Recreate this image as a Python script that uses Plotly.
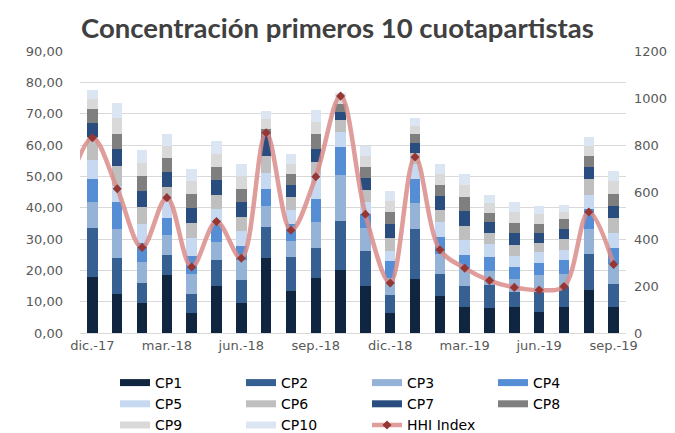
import plotly.graph_objects as go

months = ["dic.-17", "ene.-18", "feb.-18", "mar.-18", "abr.-18", "may.-18", "jun.-18",
          "jul.-18", "ago.-18", "sep.-18", "oct.-18", "nov.-18", "dic.-18", "ene.-19",
          "feb.-19", "mar.-19", "abr.-19", "may.-19", "jun.-19", "jul.-19", "ago.-19", "sep.-19"]
tick_labels = ["dic.-17", "mar.-18", "jun.-18", "sep.-18", "dic.-18", "mar.-19", "jun.-19", "sep.-19"]

cp1 = [18.0, 12.5, 9.5, 18.4, 6.4, 14.9, 9.5, 23.8, 13.3, 17.7, 20.0, 14.9, 6.3, 17.1, 11.8, 8.3, 7.9, 8.3, 6.7, 8.3, 13.6, 8.3]
cp2 = [15.6, 11.3, 6.6, 6.6, 6.1, 8.5, 7.3, 10.1, 10.9, 9.3, 15.9, 11.3, 5.9, 16.0, 7.1, 6.7, 7.4, 4.8, 6.4, 6.5, 11.5, 7.2]
cp3 = [8.1, 9.3, 6.6, 6.2, 6.2, 5.5, 6.4, 6.6, 5.2, 8.5, 14.4, 7.4, 5.5, 8.5, 6.2, 5.8, 4.5, 4.2, 5.3, 3.9, 8.0, 6.4]
cp4 = [7.4, 8.7, 6.1, 5.5, 5.9, 5.8, 4.6, 5.6, 5.3, 7.4, 9.1, 4.3, 5.3, 7.4, 5.6, 4.2, 4.4, 3.8, 3.9, 4.5, 6.4, 5.3]
cp5 = [6.2, 5.1, 5.9, 5.4, 5.8, 4.8, 4.6, 5.1, 4.4, 7.4, 4.6, 4.0, 3.2, 4.8, 4.7, 4.6, 4.3, 3.5, 3.4, 3.4, 4.7, 4.8]
cp6 = [7.3, 6.4, 5.5, 4.6, 4.6, 4.5, 4.6, 5.3, 4.3, 4.3, 3.9, 3.7, 4.2, 3.7, 4.0, 4.7, 3.5, 3.5, 3.1, 3.4, 4.8, 4.8]
cp7 = [4.4, 5.5, 5.1, 4.8, 4.8, 4.7, 4.8, 6.4, 3.7, 4.2, 2.7, 4.0, 4.3, 3.2, 4.3, 4.7, 3.5, 3.9, 3.2, 3.2, 4.0, 3.7]
cp8 = [4.4, 4.7, 4.7, 4.2, 4.7, 4.3, 4.3, 2.1, 3.5, 4.6, 2.6, 3.4, 3.9, 2.7, 3.5, 4.3, 2.8, 3.1, 2.9, 3.1, 3.5, 4.0]
cp9 = [3.4, 5.2, 4.4, 4.0, 3.9, 4.0, 3.9, 3.2, 3.2, 4.0, 1.9, 3.5, 3.5, 2.8, 3.4, 3.8, 3.1, 3.6, 3.0, 2.4, 3.2, 4.0]
cp10 = [2.6, 4.6, 4.1, 3.8, 3.8, 4.2, 3.8, 2.7, 3.2, 3.7, 1.6, 3.2, 3.2, 2.5, 3.2, 3.7, 2.6, 3.1, 2.6, 2.3, 2.9, 3.2]

hhi = [831, 614, 364, 576, 281, 474, 318, 852, 437, 665, 1008, 505, 213, 749, 354, 276, 223, 194, 183, 198, 515, 292]
# previous month (outside the visible range, only its line segment enters at the left edge)
hhi_prev_month = "nov.-17"
hhi_prev = 610

series = [
    ("CP1", cp1, "#10253f"),
    ("CP2", cp2, "#376092"),
    ("CP3", cp3, "#95b3d7"),
    ("CP4", cp4, "#558ed5"),
    ("CP5", cp5, "#c6d9f1"),
    ("CP6", cp6, "#bfbfbf"),
    ("CP7", cp7, "#284d7e"),
    ("CP8", cp8, "#7f7f7f"),
    ("CP9", cp9, "#d9d9d9"),
    ("CP10", cp10, "#dce6f2"),
]

fig = go.Figure()
for name, vals, col in series:
    fig.add_trace(go.Bar(x=months, y=vals, name=name, legendgroup=name, showlegend=False,
                         marker=dict(color=col, line=dict(width=0))))
for name, vals, col in series:
    fig.add_trace(go.Scatter(x=[None], y=[None], mode="lines", name=name, legendgroup=name,
                             line=dict(color=col, width=7)))

fig.add_trace(go.Scatter(
    x=[hhi_prev_month] + months, y=[hhi_prev] + hhi, name="HHI Index", yaxis="y2",
    mode="lines+markers",
    line=dict(color="rgba(217,140,138,0.85)", width=4.5, shape="spline", smoothing=1),
    marker=dict(symbol="diamond", size=7, color="#953735"),
))

tick_font = dict(family="DejaVu Sans", size=13, color="#595959")

fig.update_layout(
    width=675, height=433,
    margin=dict(l=72, r=57, t=43, b=108),
    paper_bgcolor="white", plot_bgcolor="white",
    barmode="stack", bargap=0.58,
    separators=",.",
    title=dict(text="<b>Concentración primeros 10 cuotapartistas</b>",
               x=0.488, xref="container", xanchor="center",
               y=1 - 20 / 433, yref="container", yanchor="middle",
               font=dict(family="Lato", size=27.5, color="#404040")),
    xaxis=dict(type="category", categoryorder="array",
               categoryarray=[hhi_prev_month] + months,
               range=[0.5, 22.5], tickvals=tick_labels, ticktext=tick_labels,
               showgrid=False, showline=False, ticks="", tickfont=tick_font,
               ticklabelstandoff=3),
    yaxis=dict(range=[0, 90], dtick=10, tickformat=".2f", gridcolor="#d9d9d9",
               zeroline=True, zerolinecolor="#d9d9d9", zerolinewidth=1,
               showline=False, tickfont=tick_font, ticklabelstandoff=16),
    yaxis2=dict(range=[0, 1200], dtick=200, overlaying="y", side="right",
                showgrid=False, zeroline=False, showline=False, tickfont=tick_font,
                ticklabelstandoff=7),
    legend=dict(orientation="h", x=107 / 675, xref="container", xanchor="left",
                y=(433 - 359) / 433, yref="container", yanchor="top",
                entrywidth=81, entrywidthmode="pixels", itemwidth=30,
                traceorder="normal",
                font=dict(family="DejaVu Sans", size=14, color="#000000")),
)

fig.write_html("out.html")
